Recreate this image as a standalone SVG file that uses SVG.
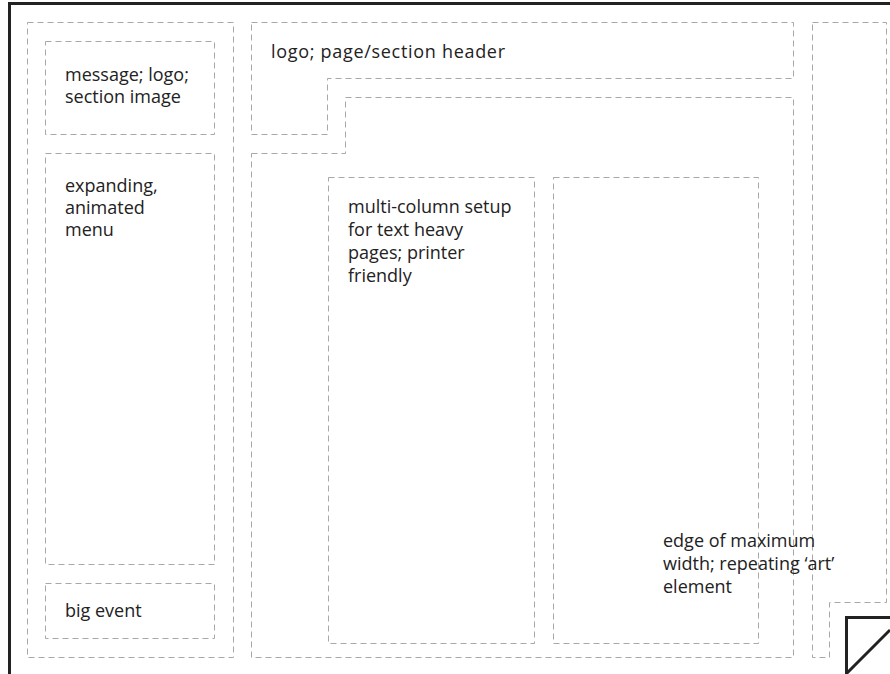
<svg xmlns="http://www.w3.org/2000/svg" width="890" height="674" viewBox="0 0 890 674">
<style>
.d{fill:none;stroke:#a8a8a8;stroke-width:1;stroke-dasharray:6 4}
.t{font-family:"Open Sans","Noto Sans","Liberation Sans",sans-serif;font-size:18px;fill:#222}
.k{fill:none;stroke:#222;stroke-width:3}
</style>
<rect width="890" height="674" fill="#fff"/>
<g id="frame">
<path class="k" d="M9.5 674 V3.5 H890"/>
</g>
<g id="left-column">
<rect class="d" x="27.5" y="22.5" width="206" height="635"/>
</g>
<g id="message">
<rect class="d" x="45.5" y="41.5" width="169" height="93"/>
<text class="t" x="65" y="81">message; logo;</text>
<text class="t" x="65" y="103">section image</text>
</g>
<g id="menu">
<rect class="d" x="45.5" y="153.5" width="169" height="411"/>
<text class="t" x="65" y="192">expanding,</text>
<text class="t" x="65" y="214">animated</text>
<text class="t" x="65" y="236">menu</text>
</g>
<g id="big-event">
<rect class="d" x="45.5" y="583.5" width="169" height="55"/>
<text class="t" x="65" y="617">big event</text>
</g>
<g id="header">
<path class="d" d="M251.5 22.5 H793.5 V78.5 H327.5 V134.5 H251.5 Z"/>
<text class="t" x="271" y="58" textLength="234" lengthAdjust="spacing">logo; page/section header</text>
</g>
<g id="content">
<path class="d" d="M251.5 153.5 H345.5 V97.5 H793.5 V657.5 H251.5 Z"/>
</g>
<g id="column-1">
<rect class="d" x="328.5" y="177.5" width="206" height="466"/>
<text class="t" x="348" y="213">multi-column setup</text>
<text class="t" x="348" y="236">for text heavy</text>
<text class="t" x="348" y="259">pages; printer</text>
<text class="t" x="348" y="282">friendly</text>
</g>
<g id="column-2">
<rect class="d" x="553.5" y="177.5" width="205" height="466"/>
</g>
<g id="art-edge">
<path class="d" d="M812.5 22.5 H886.5 V602.5 H829.5 V657.5 H812.5 Z"/>
<text class="t" x="663" y="547">edge of maximum</text>
<text class="t" x="663" y="570">width; repeating ‘art’</text>
<text class="t" x="663" y="593">element</text>
</g>
<g id="page-curl">
<path class="k" d="M846.5 674 V617.5 H890"/>
<path class="k" d="M847 673 L890 630"/>
</g>
</svg>
